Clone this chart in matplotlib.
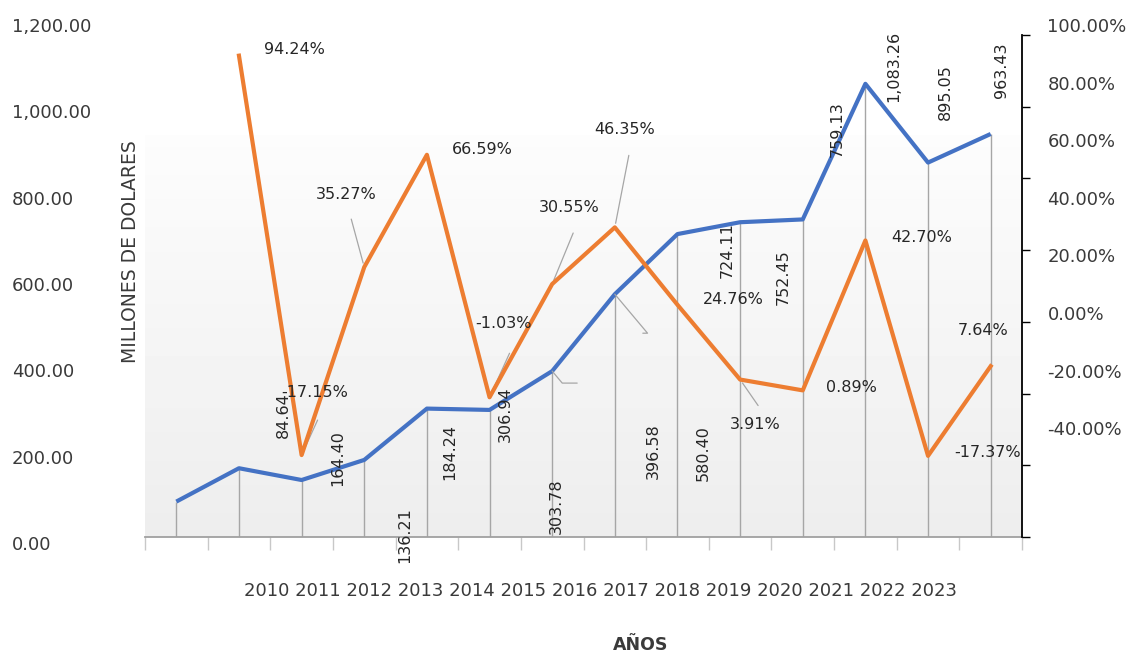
import numpy as np
import matplotlib
matplotlib.use('Agg')
import matplotlib.pyplot as plt

# datos del grafico
anios = ['2010', '2011', '2012', '2013', '2014', '2015', '2016',
         '2017', '2018', '2019', '2020', '2021', '2022', '2023']
millones = [84.64, 164.40, 136.21, 184.24, 306.94, 303.78, 396.58,
            580.40, 724.11, 752.45, 759.13, 1083.26, 895.05, 963.43]
crecimiento = [94.24, -17.15, 35.27, 66.59, -1.03, 30.55, 46.35,
               24.76, 3.91, 0.89, 42.70, -17.37, 7.64]  # desde 2011
ticks_izq = [0, 200, 400, 600, 800, 1000, 1200]
ticks_der = [100, 80, 60, 40, 20, 0, -20, -40]

# desplazamientos de etiquetas (pixeles)
off_mill = [(107, 86), (99, 10), (103, -55), (86, 8), (78, -6), (67, -96), (101, -80),
            (88, -159), (50, -16), (43, -55), (35, 90), (28, 17), (17, 71), (11, 64)]
off_crec = [(55, 6), (13, 63), (-18, 73), (55, 5), (14, 74), (17, 77), (10, 98),
            (56, 5), (15, -45), (49, 3), (56, 3), (60, 3), (-8, 36)]
guias_crec = {2: (16, 35), 3: (-13, 48), 5: (20, 44), 6: (21, 51), 7: (14, 72), 9: (18, -26)}
guias_mill = {6: (25, -12), 7: (28, -39)}

AZUL = '#4472C4'
NARANJA = '#ED7D31'
GRIS = '#a6a6a6'
TXT = '#3a3a3a'

plt.rcParams['font.family'] = ['DejaVu Sans']

fig = plt.figure(figsize=(11.31, 6.55), dpi=100)
ax = fig.add_axes([145 / 1131, 118 / 655, 877 / 1131, 502 / 655])
ax.set_autoscale_on(False)

x = np.arange(len(millones))
xc = x[1:]

# fondo degradado (zona inferior del area de trazado)
grad = np.linspace(0.93, 0.99, 100).reshape(-1, 1)
ax.imshow(grad, cmap='gray', vmin=0, vmax=1, origin='lower', aspect='auto',
          extent=[0, 1, 0, 0.80], transform=ax.transAxes, zorder=0)

ax.vlines(x, 0, millones, color=GRIS, lw=1, zorder=1)
ax.plot(x, millones, color=AZUL, lw=3, zorder=3, solid_capstyle='butt')

ax.set_xlim(-0.5, len(millones) - 0.5)
ax.set_ylim(0, 1200)
ax.set_xticks(np.arange(-0.5, len(millones), 1))
ax.set_xticklabels([])
ax.tick_params(axis='x', direction='out', length=9, color='#c8c8c8', width=1)
ax.set_yticks([])
for s in ['top', 'left', 'right']:
    ax.spines[s].set_visible(False)
ax.spines['bottom'].set_color('#a0a0a0')
ax.spines['bottom'].set_linewidth(1.3)

# etiquetas del eje izquierdo (como aparecen en la imagen)
for k, t in enumerate(ticks_izq):
    yf = (537 - 545 + 86.3 * k) / 502
    ax.text(-133 / 877, yf, f'{t:,.2f}', transform=ax.transAxes, ha='left', va='center',
            fontsize=13, color=TXT)

# etiquetas de millones
for i, v in enumerate(millones):
    ax.annotate(f'{v:,.2f}', xy=(x[i], v), xytext=off_mill[i], textcoords='offset pixels',
                rotation=90, ha='center', va='center', fontsize=11.5, color='#262626', zorder=6)
for i, off in guias_mill.items():
    ax.annotate('', xy=(x[i], millones[i]), xytext=off, textcoords='offset pixels',
                arrowprops=dict(arrowstyle='-', color=GRIS, lw=0.9, shrinkA=0, shrinkB=0,
                                connectionstyle='angle,angleA=0,angleB=-50,rad=0'))

# eje secundario: crecimiento
ax2 = ax.twinx()
ax2.plot(xc, crecimiento, color=NARANJA, lw=3, zorder=4)
ax2.set_ylim(-40, 100)
ax2.set_xlim(-0.5, len(millones) - 0.5)
ax2.set_yticks(ticks_der)
ax2.set_yticklabels([])
ax2.tick_params(axis='y', direction='out', length=6, color='black', width=1)
for s in ['top', 'left', 'bottom']:
    ax2.spines[s].set_visible(False)
ax2.spines['right'].set_color('black')
ax2.spines['right'].set_linewidth(1.3)

# etiquetas del eje derecho (como aparecen en la imagen)
for k, t in enumerate(ticks_der):
    yf = (537 - 27 - 57.6 * k) / 502
    ax2.text(1.029, yf, f'{t:.2f}%', transform=ax2.transAxes, ha='left', va='center',
             fontsize=13, color=TXT)

for j, v in enumerate(crecimiento):
    ax2.annotate(f'{v:.2f}%', xy=(xc[j], v), xytext=off_crec[j], textcoords='offset pixels',
                 ha='center', va='center', fontsize=11.5, color='#262626', zorder=6)
for i, off in guias_crec.items():
    ax2.annotate('', xy=(i, crecimiento[i - 1]), xytext=off, textcoords='offset pixels',
                 arrowprops=dict(arrowstyle='-', color=GRIS, lw=0.9, shrinkA=0, shrinkB=3))

# textos de ejes
ax.text(-0.017, 0.568, 'MILLONES DE DOLARES', transform=ax.transAxes, rotation=90,
        ha='center', va='center', fontsize=13.5, color=TXT)
fig.text(600 / 1131, 1 - 591 / 655, ' '.join(anios), ha='center', va='center',
         fontsize=13, color=TXT)
fig.text(641 / 1131, 1 - 645 / 655, 'AÑOS', ha='center', va='center',
         fontsize=12.5, fontweight='bold', color=TXT)

fig.savefig('out.png', dpi=100)
